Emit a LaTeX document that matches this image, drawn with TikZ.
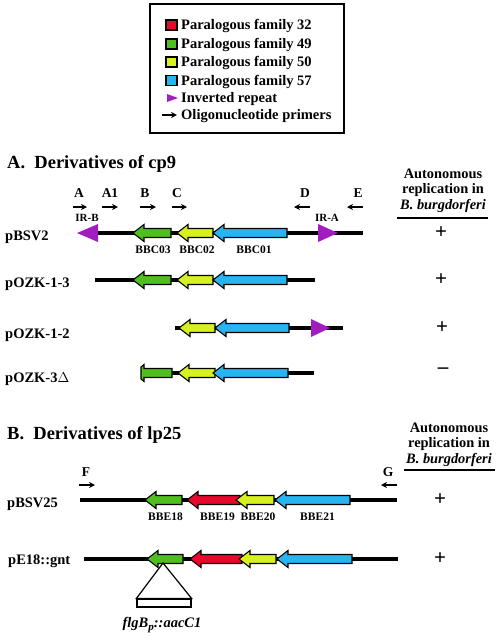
\documentclass[tikz,border=0pt]{standalone}
\usepackage{fontspec}
\setmainfont{Liberation Serif}
\usetikzlibrary{arrows.meta}
\definecolor{famred}{RGB}{232,8,44}
\definecolor{famgreen}{RGB}{80,190,30}
\definecolor{famyellow}{RGB}{214,240,32}
\definecolor{famblue}{RGB}{40,180,240}
\definecolor{irpurple}{RGB}{160,30,190}
\begin{document}
\begin{tikzpicture}[x=1pt, y=-1pt,
    dna/.style={line width=4pt, line cap=butt},
    gene/.style={draw=black, line width=1.1pt},
    primer/.style={-{Stealth[length=6pt,width=6pt]}, line width=1.2pt},
    txt/.style={font=\fontsize{14.5}{17}\selectfont\bfseries, inner sep=0pt},
    heading/.style={font=\fontsize{18.5}{21}\selectfont\bfseries, inner sep=0pt},
    genelbl/.style={font=\fontsize{11.5}{13}\selectfont\bfseries, inner sep=0pt},
    primerlbl/.style={font=\fontsize{13.5}{15}\selectfont\bfseries, inner sep=0pt},
    irlbl/.style={font=\fontsize{11}{12}\selectfont\bfseries, inner sep=0pt},
    hdr/.style={font=\fontsize{14.4}{15.5}\selectfont\bfseries, align=center, inner sep=0pt},
    sign/.style={font=\fontsize{21}{21}\selectfont\bfseries, inner sep=0pt}]
    % gene arrow: name, tip x, end x, y, colour
    \def\gene#1#2#3#4#5{%
        \filldraw[gene, fill=#5] (#2,#4) -- ++(11,-8.5) -- ++(0,4) -- (#3,#4-4.5)
            -- (#3,#4+4.5) -- (#2+11,#4+4.5) -- ++(0,4) -- cycle;
        \coordinate (#1) at ({(#2+#3)/2},#4);}
    % inverted repeat: name, base x, tip x, y
    \def\irep#1#2#3#4{%
        \fill[irpurple] (#2,#4-9) -- (#3,#4) -- (#2,#4+9) -- cycle;
        \coordinate (#1) at (#2,#4);}

    \useasboundingbox (0,0) rectangle (499,638);

    % key
    \draw[line width=2pt] (150,4) rectangle (344,133);
    \foreach \col/\num/\yy in {famred/32/25, famgreen/49/44, famyellow/50/62, famblue/57/80.5}{%
        \filldraw[gene, fill=\col] (166,\yy-5) rectangle ++(11,10);
        \node[txt, anchor=base west] (key\num) at (181,\yy+4.5) {Paralogous family \num};
    }
    \fill[irpurple] (167,94) -- (178,98) -- (167,102) -- cycle;
    \node[txt, anchor=base west] (keyir) at (181,102.5) {Inverted repeat};
    \coordinate (keyp1) at (162,115);
    \coordinate (keyp2) at (177,115);
    \draw[primer] (keyp1) -- (keyp2);
    \node[txt, anchor=base west] (keyprimer) at (181,119) {Oligonucleotide primers};

    % A. cp9
    \node[heading, anchor=base west] (secA) at (7,168) {A.\ \ Derivatives of cp9};
    \node[hdr, anchor=base] (autoA) at (443,209) {Autonomous\\replication in\\\textit{B. burgdorferi}};
    \draw[line width=2pt] (397,218) -- (488,218);

    \foreach \nm/\xx/\from/\to in {A/79/73/87, A1/110/102/118, B/145/140/156, C/177/172/187, D/305/310/294, E/358/363/347}{%
        \node[primerlbl, anchor=base] (p\nm) at (\xx,197) {\nm};
        \coordinate (p\nm-s) at (\from,207);
        \coordinate (p\nm-e) at (\to,207);
        \draw[primer] (p\nm-s) -- (p\nm-e);
    }
    \node[irlbl] (irB) at (87,218) {IR-B};
    \node[irlbl] (irA) at (327,218) {IR-A};

    % pBSV2
    \node[txt, anchor=base west] (bsv2) at (5,240) {pBSV2};
    \coordinate (bsv2-l) at (97,233);
    \coordinate (bsv2-r) at (363,233);
    \draw[dna] (bsv2-l) -- (bsv2-r);
    \gene{bsv2-c03}{133}{171}{233}{famgreen}
    \gene{bsv2-c02}{177}{213}{233}{famyellow}
    \gene{bsv2-c01}{213}{287}{233}{famblue}
    \irep{bsv2-irb}{98}{77}{233}
    \irep{bsv2-ira}{318}{338}{233}
    \node[genelbl] (lbl-c03) at ([shift={(1,17)}]bsv2-c03) {BBC03};
    \node[genelbl] (lbl-c02) at ([shift={(2,17)}]bsv2-c02) {BBC02};
    \node[genelbl] (lbl-c01) at ([shift={(4,17)}]bsv2-c01) {BBC01};
    \node[sign] (s-bsv2) at (441,233) {+};

    % pOZK-1-3
    \node[txt, anchor=base west] (ozk13) at (5,287) {pOZK-1-3};
    \coordinate (ozk13-l) at (95,280);
    \coordinate (ozk13-r) at (315,280);
    \draw[dna] (ozk13-l) -- (ozk13-r);
    \gene{ozk13-c03}{133}{171}{280}{famgreen}
    \gene{ozk13-c02}{177}{213}{280}{famyellow}
    \gene{ozk13-c01}{213}{287}{280}{famblue}
    \node[sign] (s-ozk13) at (441,280) {+};

    % pOZK-1-2
    \node[txt, anchor=base west] (ozk12) at (5,338) {pOZK-1-2};
    \coordinate (ozk12-l) at (175,328);
    \coordinate (ozk12-r) at (343,328);
    \draw[dna] (ozk12-l) -- (ozk12-r);
    \gene{ozk12-c02}{179}{215}{328}{famyellow}
    \gene{ozk12-c01}{215}{289}{328}{famblue}
    \irep{ozk12-ira}{311}{330}{328}
    \node[sign] (s-ozk12) at (442,328) {+};

    % pOZK-3 delta
    \node[txt, anchor=base west] (ozk3) at (5,382) {pOZK-3$\Delta$};
    \coordinate (ozk3-l) at (172,373);
    \coordinate (ozk3-r) at (314,373);
    \draw[dna] (ozk3-l) -- (ozk3-r);
    \filldraw[gene, fill=famgreen] (141,367) -- (144,364.5) -- (144,368.5) -- (172,368.5)
        -- (172,377.5) -- (144,377.5) -- (144,381.5) -- (141,379) -- cycle;
    \gene{ozk3-c02}{178}{215}{373}{famyellow}
    \gene{ozk3-c01}{213}{288}{373}{famblue}
    \node[sign] (s-ozk3) at (443,371) {--};

    % B. lp25
    \node[heading, anchor=base west] (secB) at (7,439) {B.\ \ Derivatives of lp25};
    \node[hdr, anchor=base] (autoB) at (449,463) {Autonomous\\replication in\\\textit{B. burgdorferi}};
    \draw[line width=2pt] (404,470) -- (495,470);

    \node[primerlbl, anchor=base] (pF) at (86,476) {F};
    \node[primerlbl, anchor=base] (pG) at (388,476) {G};
    \coordinate (pF-s) at (79,485);
    \coordinate (pF-e) at (95,485);
    \coordinate (pG-s) at (397,485);
    \coordinate (pG-e) at (381,485);
    \draw[primer] (pF-s) -- (pF-e);
    \draw[primer] (pG-s) -- (pG-e);

    % pBSV25
    \node[txt, anchor=base west] (bsv25) at (7,507) {pBSV25};
    \coordinate (bsv25-l) at (80,500);
    \coordinate (bsv25-r) at (397,500);
    \draw[dna] (bsv25-l) -- (bsv25-r);
    \gene{bsv25-e18}{145}{182}{500}{famgreen}
    \gene{bsv25-e19}{187}{240}{500}{famred}
    \gene{bsv25-e20}{236}{274}{500}{famyellow}
    \gene{bsv25-e21}{275}{350}{500}{famblue}
    \node[genelbl] (lbl-e18) at ([shift={(2,17)}]bsv25-e18) {BBE18};
    \node[genelbl] (lbl-e19) at ([shift={(4,17)}]bsv25-e19) {BBE19};
    \node[genelbl] (lbl-e20) at ([shift={(3,17)}]bsv25-e20) {BBE20};
    \node[genelbl] (lbl-e21) at ([shift={(5,17)}]bsv25-e21) {BBE21};
    \node[sign] (s-bsv25) at (440,500) {+};

    % pE18::gnt
    \node[txt, anchor=base west] (e18gnt) at (8,564) {pE18::gnt};
    \coordinate (e18gnt-l) at (84,559);
    \coordinate (e18gnt-r) at (398,559);
    \draw[dna] (e18gnt-l) -- (e18gnt-r);
    \gene{e18gnt-e18}{147}{183}{559}{famgreen}
    \gene{e18gnt-e19}{190}{242}{559}{famred}
    \gene{e18gnt-e20}{239}{276}{559}{famyellow}
    \gene{e18gnt-e21}{277}{352}{559}{famblue}
    \node[sign] (s-e18gnt) at (440,559) {+};
    \coordinate (ins) at (163,563);
    \node[draw, line width=1.2pt, minimum width=54pt, minimum height=8pt, inner sep=0pt] (cassette) at (164,603) {};
    \draw[line width=1.2pt] (ins) -- (cassette.north west) -- (cassette.north east) -- cycle;
    \node[txt, font=\fontsize{14.5}{17}\selectfont\bfseries\itshape] (cassettelbl) at (162,625)
        {flgB\raisebox{-3pt}{\fontsize{11}{11}\selectfont p}::aacC1};
\end{tikzpicture}
\end{document}
